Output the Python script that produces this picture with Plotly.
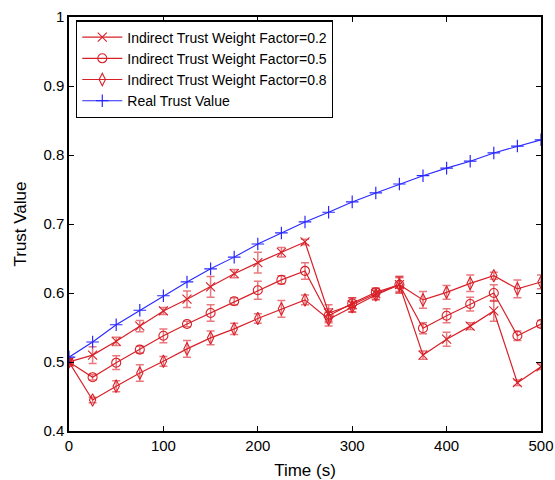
import plotly.graph_objects as go

time_s = [0, 25, 50, 75, 100, 125, 150, 175, 200, 225, 250, 275, 300, 325, 350, 375, 400, 425, 450, 475, 500]

w02 = [0.500, 0.510, 0.530, 0.552, 0.574, 0.591, 0.609, 0.628, 0.644, 0.659, 0.674, 0.571, 0.583, 0.599, 0.612, 0.510, 0.533, 0.552, 0.574, 0.470, 0.493]
w02_err = [0.004, 0.012, 0.006, 0.008, 0.005, 0.012, 0.015, 0.006, 0.015, 0.007, 0.004, 0.012, 0.010, 0.008, 0.012, 0.006, 0.010, 0.005, 0.015, 0.004, 0.004]

w05 = [0.500, 0.478, 0.499, 0.518, 0.538, 0.555, 0.571, 0.588, 0.604, 0.619, 0.632, 0.567, 0.585, 0.601, 0.612, 0.549, 0.567, 0.584, 0.600, 0.538, 0.555]
w05_err = [0.004, 0.004, 0.010, 0.005, 0.010, 0.004, 0.012, 0.005, 0.013, 0.006, 0.012, 0.010, 0.008, 0.006, 0.012, 0.008, 0.010, 0.010, 0.012, 0.007, 0.005]

w08 = [0.500, 0.445, 0.465, 0.484, 0.501, 0.519, 0.535, 0.548, 0.563, 0.577, 0.590, 0.562, 0.580, 0.597, 0.612, 0.590, 0.601, 0.614, 0.625, 0.606, 0.616]
w08_err = [0.004, 0.004, 0.008, 0.012, 0.007, 0.012, 0.010, 0.008, 0.007, 0.012, 0.007, 0.010, 0.008, 0.007, 0.010, 0.012, 0.010, 0.012, 0.005, 0.013, 0.010]

real = [0.507, 0.529, 0.554, 0.575, 0.596, 0.616, 0.635, 0.652, 0.671, 0.687, 0.703, 0.717, 0.732, 0.745, 0.758, 0.770, 0.781, 0.791, 0.803, 0.813, 0.822]

names = ["Indirect Trust Weight Factor=0.2", "Indirect Trust Weight Factor=0.5",
         "Indirect Trust Weight Factor=0.8", "Real Trust Value"]

FONT = "Liberation Sans, Arial, sans-serif"
RED = "rgb(216,32,40)"
ERR = "rgba(216,32,40,0.6)"
BLUE = "rgb(40,40,255)"

fig = go.Figure()
for ys, es, sym, nm in [(w02, w02_err, "x-thin-open", names[0]),
                        (w05, w05_err, "circle-open", names[1]),
                        (w08, w08_err, "diamond-tall-open", names[2])]:
    fig.add_trace(go.Scatter(
        x=time_s, y=ys, name=nm, mode="lines+markers",
        line=dict(color=RED, width=1.2),
        marker=dict(symbol=sym, size=9, color=RED, line=dict(color=RED, width=1.1)),
        error_y=dict(type="data", array=es, color=ERR, thickness=1.5, width=4),
    ))
fig.add_trace(go.Scatter(
    x=time_s, y=real, name=names[3], mode="lines+markers",
    line=dict(color=BLUE, width=1.1),
    marker=dict(symbol="cross-thin-open", size=9, color=BLUE, line=dict(color=BLUE, width=1.2)),
))

axis_common = dict(showgrid=False, zeroline=False, showline=True, linecolor="black", linewidth=1.5,
                   mirror="ticks", ticks="inside", ticklen=5, tickcolor="black", automargin=False,
                   tickfont=dict(family=FONT, size=15, color="black"))

fig.update_layout(
    width=555, height=480,
    margin=dict(l=69, r=14, t=17, b=49),
    paper_bgcolor="white", plot_bgcolor="white",
    font=dict(family=FONT, color="black"),
    xaxis=dict(range=[0, 500], dtick=100, title=dict(text="Time (s)", font=dict(size=17), standoff=12), **axis_common),
    yaxis=dict(range=[0.4, 1.0], dtick=0.1, tickformat="~g",
               title=dict(text="Trust Value", font=dict(size=17), standoff=12), **axis_common),
    legend=dict(x=0.015, y=0.992, xanchor="left", yanchor="top",
                bordercolor="black", borderwidth=1.2, bgcolor="white",
                font=dict(family=FONT, size=14), tracegroupgap=0, itemwidth=40),
    showlegend=True,
)

fig.write_html("out.html")
